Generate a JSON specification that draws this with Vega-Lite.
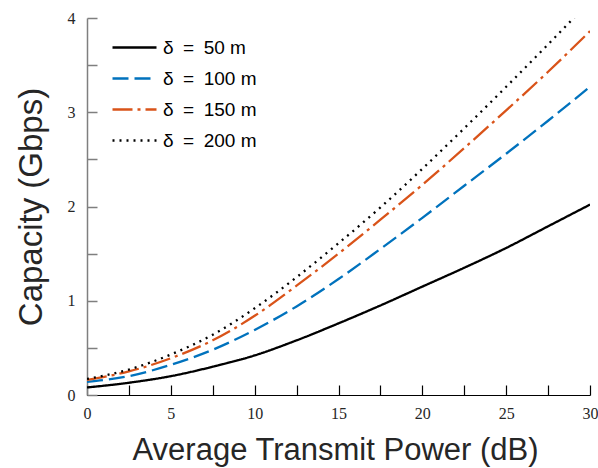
{
  "$schema": "https://vega.github.io/schema/vega-lite/v6.json",
  "width": 503,
  "height": 377,
  "autosize": {"type": "none"},
  "padding": {"left": 87, "top": 18, "right": 8, "bottom": 73},
  "background": "white",
  "config": {"view": {"stroke": null}},
  "data": {"values": [
    {"p": 0, "c": 0.08, "s": "δ = 50 m"}, {"p": 2.5, "c": 0.13, "s": "δ = 50 m"}, {"p": 5, "c": 0.20, "s": "δ = 50 m"}, {"p": 7.5, "c": 0.30, "s": "δ = 50 m"}, {"p": 10, "c": 0.42, "s": "δ = 50 m"}, {"p": 12.5, "c": 0.58, "s": "δ = 50 m"}, {"p": 15, "c": 0.76, "s": "δ = 50 m"}, {"p": 17.5, "c": 0.95, "s": "δ = 50 m"}, {"p": 20, "c": 1.15, "s": "δ = 50 m"}, {"p": 22.5, "c": 1.35, "s": "δ = 50 m"}, {"p": 25, "c": 1.56, "s": "δ = 50 m"}, {"p": 27.5, "c": 1.79, "s": "δ = 50 m"}, {"p": 30, "c": 2.02, "s": "δ = 50 m"},
    {"p": 0, "c": 0.14, "s": "δ = 100 m"}, {"p": 2.5, "c": 0.20, "s": "δ = 100 m"}, {"p": 5, "c": 0.32, "s": "δ = 100 m"}, {"p": 7.5, "c": 0.48, "s": "δ = 100 m"}, {"p": 10, "c": 0.69, "s": "δ = 100 m"}, {"p": 12.5, "c": 0.94, "s": "δ = 100 m"}, {"p": 15, "c": 1.23, "s": "δ = 100 m"}, {"p": 17.5, "c": 1.55, "s": "δ = 100 m"}, {"p": 20, "c": 1.88, "s": "δ = 100 m"}, {"p": 22.5, "c": 2.22, "s": "δ = 100 m"}, {"p": 25, "c": 2.56, "s": "δ = 100 m"}, {"p": 27.5, "c": 2.91, "s": "δ = 100 m"}, {"p": 30, "c": 3.27, "s": "δ = 100 m"},
    {"p": 0, "c": 0.16, "s": "δ = 150 m"}, {"p": 2.5, "c": 0.25, "s": "δ = 150 m"}, {"p": 5, "c": 0.39, "s": "δ = 150 m"}, {"p": 7.5, "c": 0.58, "s": "δ = 150 m"}, {"p": 10, "c": 0.84, "s": "δ = 150 m"}, {"p": 12.5, "c": 1.16, "s": "δ = 150 m"}, {"p": 15, "c": 1.50, "s": "δ = 150 m"}, {"p": 17.5, "c": 1.86, "s": "δ = 150 m"}, {"p": 20, "c": 2.23, "s": "δ = 150 m"}, {"p": 22.5, "c": 2.62, "s": "δ = 150 m"}, {"p": 25, "c": 3.02, "s": "δ = 150 m"}, {"p": 27.5, "c": 3.43, "s": "δ = 150 m"}, {"p": 30, "c": 3.86, "s": "δ = 150 m"},
    {"p": 0, "c": 0.17, "s": "δ = 200 m"}, {"p": 2.5, "c": 0.27, "s": "δ = 200 m"}, {"p": 5, "c": 0.43, "s": "δ = 200 m"}, {"p": 7.5, "c": 0.64, "s": "δ = 200 m"}, {"p": 10, "c": 0.92, "s": "δ = 200 m"}, {"p": 12.5, "c": 1.25, "s": "δ = 200 m"}, {"p": 15, "c": 1.61, "s": "δ = 200 m"}, {"p": 17.5, "c": 1.99, "s": "δ = 200 m"}, {"p": 20, "c": 2.40, "s": "δ = 200 m"}, {"p": 22.5, "c": 2.83, "s": "δ = 200 m"}, {"p": 25, "c": 3.27, "s": "δ = 200 m"}, {"p": 27.5, "c": 3.72, "s": "δ = 200 m"}, {"p": 30, "c": 4.18, "s": "δ = 200 m"}
  ]},
  "mark": {"type": "line", "clip": true, "strokeWidth": 2.3, "interpolate": "monotone"},
  "encoding": {
    "x": {
      "field": "p", "type": "quantitative",
      "scale": {"domain": [0, 30], "nice": false},
      "axis": {
        "title": "Average Transmit Power (dB)",
        "values": [0, 2.5, 5, 7.5, 10, 12.5, 15, 17.5, 20, 22.5, 25, 27.5, 30],
        "labelExpr": "datum.value % 5 === 0 ? format(datum.value, 'd') : ''",
        "grid": false, "ticks": true, "domainColor": "#000000", "domainWidth": 1.2,
        "tickColor": "#000000", "tickWidth": 1.2, "tickSize": -10,
        "labelPadding": 20, "labelFont": "Liberation Serif", "labelFontSize": 16,
        "labelColor": "#262626", "labelFlush": false,
        "titleFont": "Liberation Sans", "titleFontSize": 31, "titleFontWeight": "normal",
        "titleColor": "#262626", "titlePadding": 14, "titleX": 248
      }
    },
    "y": {
      "field": "c", "type": "quantitative",
      "scale": {"domain": [0, 4], "nice": false},
      "axis": {
        "title": "Capacity (Gbps)",
        "values": [0, 0.5, 1, 1.5, 2, 2.5, 3, 3.5, 4],
        "labelExpr": "datum.value % 1 === 0 ? format(datum.value, 'd') : ''",
        "grid": false, "ticks": true, "domainColor": "#7f7f7f", "domainWidth": 1.5,
        "tickColor": "#7f7f7f", "tickWidth": 1.5, "tickSize": -10,
        "labelPadding": 22, "labelFont": "Liberation Serif", "labelFontSize": 16,
        "labelColor": "#262626", "labelFlush": false,
        "titleFont": "Liberation Sans", "titleFontSize": 33, "titleFontWeight": "normal",
        "titleColor": "#262626", "titlePadding": 19
      }
    },
    "color": {
      "field": "s", "type": "nominal",
      "scale": {"domain": ["δ = 50 m", "δ = 100 m", "δ = 150 m", "δ = 200 m"], "range": ["#000000", "#0072BD", "#D95319", "#000000"]},
      "legend": {
        "title": null, "orient": "none", "legendX": 24, "legendY": 14,
        "symbolType": "stroke", "symbolSize": 1936, "symbolStrokeWidth": 2.3,
        "clipHeight": 31, "rowPadding": 0, "labelOffset": 5, "padding": 0,
        "labelExpr": "replace(datum.label, ' = ', '\u2002=\u2002')",
        "labelFont": "Liberation Sans", "labelFontSize": 19, "labelColor": "#000000"
      }
    },
    "strokeDash": {
      "field": "s", "type": "nominal",
      "scale": {"domain": ["δ = 50 m", "δ = 100 m", "δ = 150 m", "δ = 200 m"], "range": [[1, 0], [16, 6], [20, 5, 3, 5], [2, 5]]},
      "legend": {
        "title": null, "orient": "none", "legendX": 24, "legendY": 14,
        "symbolType": "stroke", "symbolSize": 1936, "symbolStrokeWidth": 2.3,
        "clipHeight": 31, "rowPadding": 0, "labelOffset": 5, "padding": 0,
        "labelExpr": "replace(datum.label, ' = ', '\u2002=\u2002')",
        "labelFont": "Liberation Sans", "labelFontSize": 19, "labelColor": "#000000"
      }
    }
  }
}
